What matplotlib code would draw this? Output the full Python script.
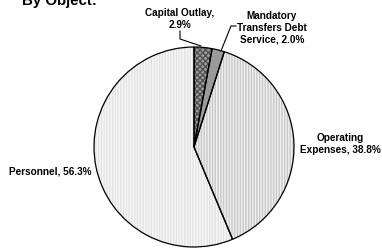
import matplotlib
matplotlib.use("Agg")
import matplotlib.pyplot as plt

plt.rcParams['font.family'] = ['Liberation Sans', 'DejaVu Sans']

categories = ["Capital Outlay", "Mandatory Transfers Debt Service", "Operating Expenses", "Personnel"]
values = [2.9, 2.0, 38.8, 56.3]
label_texts = ["Capital Outlay,\n2.9%", "Mandatory\nTransfers Debt\nService, 2.0%",
               "Operating\nExpenses, 38.8%", "Personnel, 56.3%"]
face_colors = ["#a0a0a0", "#9a9a9a", "#f0f0f0", "#f8f8f8"]
hatch_colors = ["#505050", "#9a9a9a", "#c8c8c8", "#e2e2e2"]
hatches = ["xxxxxx", None, "||||||", "||||||"]

W, H = 382, 253
fig = plt.figure(figsize=(W / 100, H / 100), dpi=100)
fig.patch.set_facecolor("white")

cx, cy, r = 194, 148, 100
ax = fig.add_axes([(cx - r) / W, (H - cy - r) / H, 2 * r / W, 2 * r / H])

fills, _ = ax.pie(values, startangle=90, counterclock=False, colors=face_colors,
                  radius=1.0, wedgeprops=dict(linewidth=0))
for w, h, hc in zip(fills, hatches, hatch_colors):
    w.set_edgecolor(hc)
    if h:
        w.set_hatch(h)
outl, _ = ax.pie(values, startangle=90, counterclock=False,
                 radius=1.0, wedgeprops=dict(facecolor="none", edgecolor="black", linewidth=0.9))
ax.set_xlim(-1, 1)
ax.set_ylim(-1, 1)
ax.set_aspect("equal")
ax.axis("off")

def d(px, py):
    return ((px - cx) / r, (cy - py) / r)

fs = 7.2
kw = dict(fontsize=fs, fontweight="bold", ha="center", va="center", linespacing=1.2, clip_on=False)
ax.text(*d(180, 19), label_texts[0], **kw)
ax.text(*d(272, 28), label_texts[1], **kw)
ax.text(*d(340, 144), label_texts[2], **kw)
ax.text(*d(50, 172), label_texts[3], **kw)

x1, y1 = zip(*[d(180, 32), d(180, 40), d(201, 47)])
ax.plot(x1, y1, color="black", lw=0.8, clip_on=False)
x2, y2 = zip(*[d(236, 27), d(231, 27), d(221, 52)])
ax.plot(x2, y2, color="black", lw=0.8, clip_on=False)

fig.text(22 / W, (H - 5) / H, "By Object:", fontsize=10.8, fontweight="bold",
         ha="left", va="baseline")

fig.savefig("out.png", dpi=100, facecolor="white")
